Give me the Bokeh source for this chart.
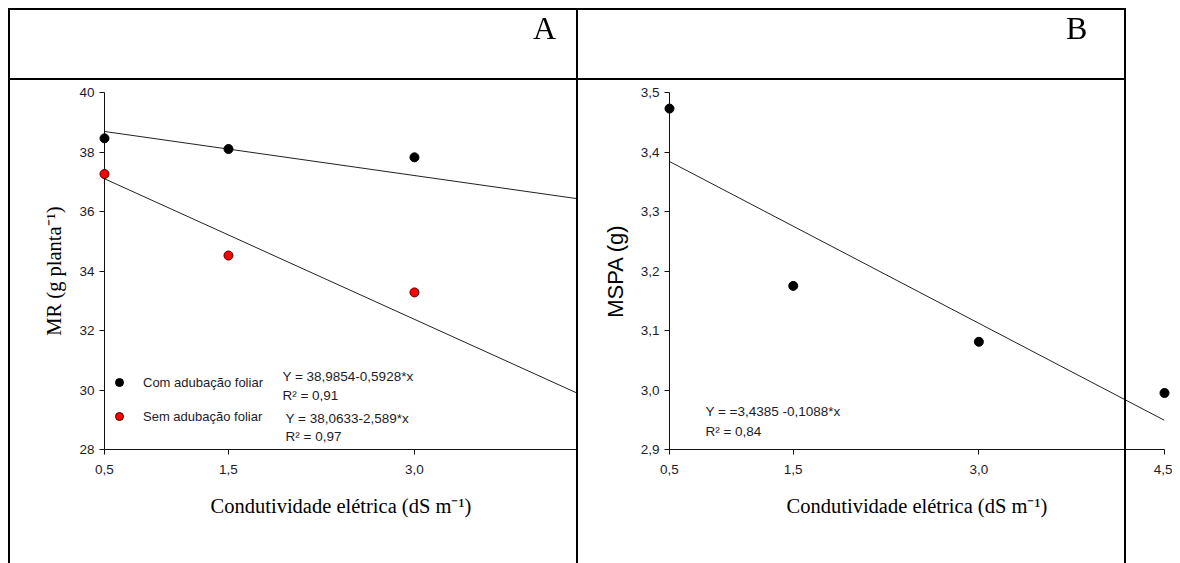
from bokeh.plotting import figure
from bokeh.models import (Div, Label, Legend, LegendItem, Range1d, FixedTicker,
                          CustomJSTickFormatter)
from bokeh.layouts import row
from bokeh.embed import file_html
from bokeh.resources import INLINE

# ---------------- data: panel A ----------------
ce_a = [0.5, 1.5, 3.0]
mr_com = [38.46, 38.10, 37.82]
mr_sem = [37.26, 34.52, 33.28]
fit_x_a = [0.5, 4.5]
fit_com = [38.69, 36.32]
fit_sem = [37.10, 29.54]
xticks_a = [0.5, 1.5, 3.0]
yticks_a = [28, 30, 32, 34, 36, 38, 40]
series_names = ["Com adubação foliar", "Sem adubação foliar"]
eq_a = ["Y = 38,9854-0,5928*x", "R² = 0,91", "Y = 38,0633-2,589*x", "R² = 0,97"]

# ---------------- data: panel B ----------------
ce_b = [0.5, 1.5, 3.0, 4.5]
mspa = [3.473, 3.175, 3.081, 2.995]
fit_x_b = [0.5, 4.5]
fit_b = [3.384, 2.949]
xticks_b = [0.5, 1.5, 3.0, 4.5]
yticks_b = [2.9, 3.0, 3.1, 3.2, 3.3, 3.4, 3.5]
eq_b = ["Y = =3,4385 -0,1088*x", "R² = 0,84"]

xlabel = "Condutividade elétrica (dS m⁻¹)"
ylabel_a = "MR (g planta⁻¹)"
ylabel_b = "MSPA (g)"

SANS = "Liberation Sans"
SERIF = "Liberation Serif"
TICK_COLOR = "#1c1c2c"

fmt1 = CustomJSTickFormatter(code="return tick.toFixed(1).replace('.', ',');")
fmt0 = CustomJSTickFormatter(code="return tick.toFixed(0);")


def style_axes(p, xt, yt, xfmt, yfmt, ylab, ylab_font, ylab_size, ylab_standoff):
    p.outline_line_color = None
    p.grid.visible = False
    p.background_fill_color = "white"
    p.border_fill_color = None
    for ax in (p.xaxis[0], p.yaxis[0]):
        ax.axis_line_color = "#111111"
        ax.axis_line_width = 1
        ax.major_tick_line_color = "#111111"
        ax.major_tick_out = 5
        ax.major_tick_in = 0
        ax.minor_tick_line_color = None
        ax.major_label_text_font = SANS
        ax.major_label_text_font_size = "13.5px"
        ax.major_label_text_color = TICK_COLOR
    p.xaxis[0].ticker = FixedTicker(ticks=xt)
    p.yaxis[0].ticker = FixedTicker(ticks=yt)
    p.xaxis[0].formatter = xfmt
    p.yaxis[0].formatter = yfmt
    p.xaxis[0].major_label_standoff = 10
    p.yaxis[0].major_label_standoff = 5
    p.xaxis[0].axis_label = xlabel
    p.xaxis[0].axis_label_text_font = SERIF
    p.xaxis[0].axis_label_text_font_size = "20.5px"
    p.xaxis[0].axis_label_text_font_style = "normal"
    p.xaxis[0].axis_label_text_color = "black"
    p.xaxis[0].axis_label_standoff = 18
    p.yaxis[0].axis_label = ylab
    p.yaxis[0].axis_label_text_font = ylab_font
    p.yaxis[0].axis_label_text_font_size = ylab_size
    p.yaxis[0].axis_label_text_font_style = "normal"
    p.yaxis[0].axis_label_text_color = "black"
    p.yaxis[0].axis_label_standoff = ylab_standoff


# ---------------- panel A ----------------
pa = figure(width=579, height=555, output_backend="svg", toolbar_location=None,
            x_range=Range1d(0.5, 4.315), y_range=Range1d(28, 40),
            min_border_left=104, min_border_right=2, min_border_top=92,
            min_border_bottom=103)
style_axes(pa, xticks_a, yticks_a, fmt1, fmt0, ylabel_a, SERIF, "20.5px", 11)

pa.line(fit_x_a, fit_com, line_color="#222222", line_width=1)
pa.line(fit_x_a, fit_sem, line_color="#222222", line_width=1)
r_com = pa.scatter(ce_a, mr_com, size=9, fill_color="black", line_color="black",
                   level="overlay")
r_sem = pa.scatter(ce_a, mr_sem, size=9, fill_color="#ff0000", line_color="#4a0000",
                   level="overlay")

leg = Legend(items=[LegendItem(label=series_names[0], renderers=[r_com]),
                    LegendItem(label=series_names[1], renderers=[r_sem])],
             location=(5, 23), padding=0, margin=0, spacing=14,
             glyph_width=20, glyph_height=20, label_height=20, label_standoff=14,
             border_line_color=None, background_fill_alpha=0,
             label_text_font=SANS, label_text_font_size="13px",
             label_text_color=TICK_COLOR)
pa.add_layout(leg)

for txt, (lx, ly) in zip(eq_a, [(1.935, 30.47), (1.935, 29.80), (1.96, 29.03), (1.96, 28.43)]):
    pa.add_layout(Label(x=lx, y=ly, text=txt, text_font=SANS,
                        text_font_size="13.5px", text_color=TICK_COLOR,
                        text_baseline="middle", text_align="left"))

# ---------------- panel B ----------------
pb = figure(width=593, height=555, output_backend="svg", toolbar_location=None,
            x_range=Range1d(0.5, 4.5), y_range=Range1d(2.9, 3.5),
            min_border_left=90, min_border_right=8, min_border_top=92,
            min_border_bottom=106)
style_axes(pb, xticks_b, yticks_b, fmt1, fmt1, ylabel_b, SANS, "22px", 10)

pb.line(fit_x_b, fit_b, line_color="#222222", line_width=1)
pb.scatter(ce_b, mspa, size=9, fill_color="black", line_color="black", level="overlay")

for txt, (lx, ly) in zip(eq_b, [(0.79, 2.964), (0.79, 2.930)]):
    pb.add_layout(Label(x=lx, y=ly, text=txt, text_font=SANS,
                        text_font_size="13.5px", text_color=TICK_COLOR,
                        text_baseline="middle", text_align="left"))

# ---------------- table frame and panel letters ----------------
Z = "z-index:1000;pointer-events:none;"
overlay_html = (
    f'<div style="position:fixed;left:8px;top:8px;width:1118px;height:560px;box-sizing:border-box;'
    f'border-top:2px solid #000;border-left:2px solid #000;border-right:2px solid #000;{Z}"></div>'
    f'<div style="position:fixed;left:8px;top:78px;width:1118px;height:2px;background:#000;{Z}"></div>'
    f'<div style="position:fixed;left:576px;top:8px;width:2px;height:560px;background:#000;{Z}"></div>'
    f'<div style="position:fixed;left:533px;top:12px;font-family:\'{SERIF}\';font-size:32px;line-height:1;color:#000;{Z}">A</div>'
    f'<div style="position:fixed;left:1066px;top:12px;font-family:\'{SERIF}\';font-size:32px;line-height:1;color:#000;{Z}">B</div>'
)
overlay = Div(text=overlay_html, width=1, height=1)

layout = row(pa, pb, overlay)

with open("out.html", "w") as f:
    f.write(file_html(layout, INLINE))
